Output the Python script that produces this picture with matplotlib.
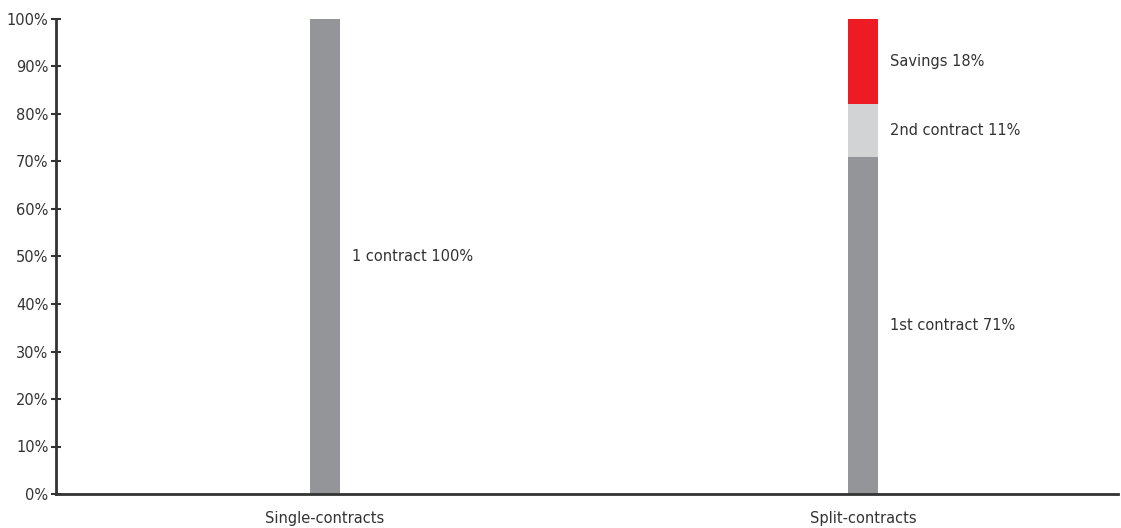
import matplotlib
matplotlib.use("Agg")
import matplotlib.pyplot as plt
from matplotlib.ticker import PercentFormatter

# contract share per scenario (percent of the single-contract cost)
categories = ["Single-contracts", "Split-contracts"]
first_contract = [100, 71]
second_contract = [0, 11]
savings = [0, 18]
segment_labels = [
    ["1 contract 100%", None, None],
    ["1st contract 71%", "2nd contract 11%", "Savings 18%"],
]

GREY = "#939598"
LIGHT = "#d1d3d4"
RED = "#ed1c24"
INK = "#333333"

plt.rcParams["font.family"] = ["DejaVu Sans"]

fig = plt.figure(figsize=(11.21, 5.28), dpi=100)
ax = fig.add_axes([56 / 1121, 34 / 528, (1118 - 56) / 1121, (494 - 19) / 528])

x = range(len(categories))
w = 0.056
ax.bar(x, first_contract, w, color=GREY)
bottom2 = first_contract
ax.bar(x, second_contract, w, bottom=bottom2, color=LIGHT)
bottom3 = [a + b for a, b in zip(first_contract, second_contract)]
ax.bar(x, savings, w, bottom=bottom3, color=RED)

# label each segment at its vertical centre, just right of the bar
for i in x:
    segs = [(0, first_contract[i]),
            (bottom2[i], second_contract[i]),
            (bottom3[i], savings[i])]
    for (base, h), lab in zip(segs, segment_labels[i]):
        if lab:
            ax.text(i + w / 2 + 0.022, base + h / 2, lab, ha="left",
                    va="center", fontsize=10.5, color=INK)

ax.set_xlim(-0.5, 1.474)
ax.set_ylim(0, 100)
ax.set_yticks(range(0, 101, 10))
ax.yaxis.set_major_formatter(PercentFormatter(decimals=0))
ax.set_xticks(list(x), categories)

for side in ("top", "right"):
    ax.spines[side].set_visible(False)
for side in ("left", "bottom"):
    ax.spines[side].set_linewidth(2)
    ax.spines[side].set_color(INK)

ax.tick_params(axis="y", direction="inout", length=7, width=1.5, color=INK,
               labelsize=10.5, labelcolor=INK, pad=2)
ax.tick_params(axis="x", length=0, labelsize=10.5, labelcolor=INK, pad=12)

fig.savefig("out.png", dpi=100)
